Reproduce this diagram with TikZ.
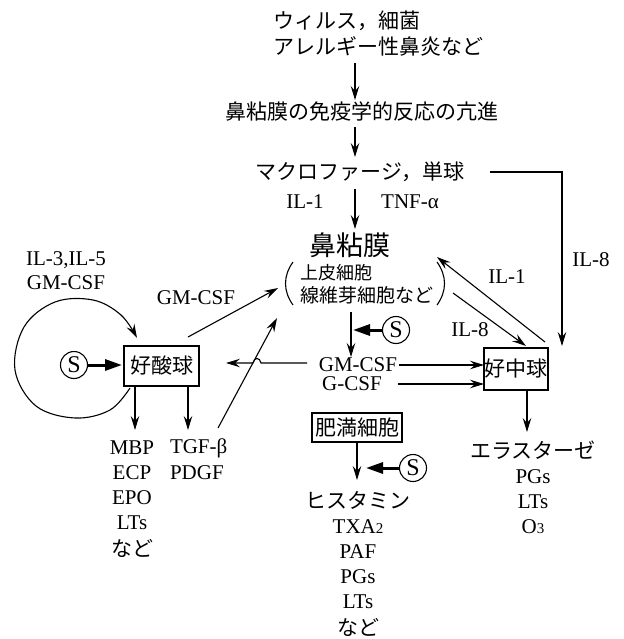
\documentclass[tikz,border=0pt]{standalone}
\usepackage{fontspec}
\setmainfont{Liberation Serif}
\newfontfamily\jp{Noto Sans CJK JP}
\usetikzlibrary{arrows.meta}
\tikzset{
  lat/.style={font=\fontsize{21}{24}\selectfont},
  jpt/.style={font=\jp\fontsize{21}{24}\selectfont},
  arr/.style={line width=1.1pt,-{Stealth[length=14pt,width=8.5pt,inset=5pt]}},
  plain/.style={line width=1.1pt},
  thickarr/.style={line width=3pt,-{Triangle[length=17pt,width=11pt]}},
  sball/.style={circle,draw,line width=1.1pt,minimum size=27pt,inner sep=0pt,font=\fontsize{24}{24}\selectfont},
  cellbox/.style={draw,line width=1.1pt,inner sep=0pt,font=\jp\fontsize{21}{24}\selectfont},
}
\begin{document}
\begin{tikzpicture}[x=1pt,y=-1pt,every node/.style={inner sep=0pt,outer sep=0pt}]
\useasboundingbox (0,0) rectangle (623,639);
% top chain
\node[jpt,anchor=west] (t1) at (273,21) {ウィルス，細菌};
\node[jpt,anchor=west] (t2) at (273,46) {アレルギー性鼻炎など};
\node[jpt] (imm) at (362,112) {鼻粘膜の免疫学的反応の亢進};
\node[jpt] (mac) at (360,172) {マクロファージ，単球};
\node[lat] (il1a) at (305,202) {IL-1};
\node[lat] (tnf) at (410,202) {TNF-α};
\node[font=\jp\fontsize{27}{30}\selectfont] (muc) at (350,245) {鼻粘膜};
\node[font=\jp\fontsize{18}{20}\selectfont,anchor=west] (muc1) at (300,273) {上皮細胞};
\node[font=\jp\fontsize{19}{20}\selectfont,anchor=west] (muc2) at (300,295) {線維芽細胞など};
\draw[plain] (293,262) .. controls (283,276) and (283,291) .. (293,305);
\draw[plain] (437,262) .. controls (447,276) and (447,291) .. (437,305);
\coordinate (a1s) at (355,63); \coordinate (a1e) at (355,100);
\draw[arr] (a1s) -- (a1e);
\coordinate (a2s) at (355,127); \coordinate (a2e) at (355,157);
\draw[arr] (a2s) -- (a2e);
\coordinate (a3s) at (355,189); \coordinate (a3e) at (355,229);
\draw[arr] (a3s) -- (a3e);
% boxes
\node[cellbox,minimum width=75pt,minimum height=40pt] (eos) at (161.5,366) {好酸球};
\node[cellbox,minimum width=64pt,minimum height=42pt] (neu) at (516,369) {好中球};
\node[cellbox,minimum width=90pt,minimum height=29pt] (mast) at (357,427.5) {肥満細胞};
% S balls
\node[sball] (s1) at (74,365) {S};
\node[sball] (s2) at (396,330) {S};
\node[sball] (s3) at (413,468) {S};
% cytokines middle
\node[lat] (gm) at (358,365) {GM-CSF};
\node[lat] (gc) at (352,384) {G-CSF};
% labels
\node[lat,align=center] (il35) at (66,271) {IL-3,IL-5\\GM-CSF};
\node[lat] (gml) at (196,298) {GM-CSF};
\node[lat] (il1b) at (507,277) {IL-1};
\node[lat] (il8a) at (470,330) {IL-8};
\node[lat] (il8b) at (591,260) {IL-8};
% macrophage -> neutrophil
\coordinate (macR) at (490,172); \coordinate (neuIn) at (562,346);
\draw[arr] (macR) -| (neuIn);
% mucosa <-> neutrophil
\coordinate (n1s) at (545,342); \coordinate (n1e) at (437,257);
\draw[arr] (n1s) -- (n1e);
\coordinate (n2s) at (453,293); \coordinate (n2e) at (526,346);
\draw[arr] (n2s) -- (n2e);
% mucosa down to GM-CSF
\coordinate (m1s) at (351,312); \coordinate (m1e) at (351,357);
\draw[arr] (m1s) -- (m1e);
\coordinate (s2t) at (353,330);
\draw[thickarr] (s2.west) -- (s2t);
% GM-CSF, G-CSF -> neutrophil
\draw[arr] (gm.east) ++(2,0) -- (neu.west |- 0,365);
\coordinate (gcR) at (398,384);
\draw[arr] (gcR) -- (neu.west |- 0,384);
% GM-CSF -> eosinophil with jump
\coordinate (gmL) at (307,363); \coordinate (eosIn) at (226,363);
\draw[arr] (gmL) -- (261,363) .. controls (260,357) and (254,357) .. (253,363) -- (eosIn);
% eosinophil -> mucosa
\coordinate (e1s) at (188,337); \coordinate (e1e) at (278,288);
\draw[arr] (e1s) -- (e1e);
\coordinate (tgs) at (218,428); \coordinate (tge) at (277,318);
\draw[arr] (tgs) -- (tge);
% S -> eosinophil
\coordinate (s1t) at (122,365);
\draw[thickarr] (s1.east) -- (s1t);
% loop
\draw[arr] plot[smooth,tension=0.6] coordinates {(130,388) (110,410) (75,418) (36,406) (15,370) (24,327) (55,302) (93,300) (121,315) (137,338)};
% outputs eosinophil
\coordinate (eo1) at (135,386); \coordinate (eo1e) at (135,430);
\coordinate (eo2) at (188,386); \coordinate (eo2e) at (188,430);
\draw[arr] (eo1) -- (eo1e);
\draw[arr] (eo2) -- (eo2e);
\node[lat] (mbp) at (132,448) {MBP};
\node[lat] (ecp) at (132,473) {ECP};
\node[lat] (epo) at (132,498) {EPO};
\node[lat] (lts1) at (132,523) {LTs};
\node[jpt] (nd1) at (132,548) {など};
\node[lat,anchor=west] (tgf) at (170,448) {TGF-β};
\node[lat,anchor=west] (pdgf) at (170,473) {PDGF};
% mast cell
\coordinate (ma1) at (357,442); \coordinate (ma1e) at (357,480);
\draw[arr] (ma1) -- (ma1e);
\coordinate (s3t) at (366,468);
\draw[thickarr] (s3.west) -- (s3t);
\node[jpt] (his) at (358,500) {ヒスタミン};
\node[lat] (txa) at (358,527) {TXA{\fontsize{15}{15}\selectfont 2}};
\node[lat] (paf) at (358,552) {PAF};
\node[lat] (pgs2) at (358,577) {PGs};
\node[lat] (lts2) at (358,602) {LTs};
\node[jpt] (nd2) at (358,627) {など};
% neutrophil outputs
\coordinate (ne1) at (527,390); \coordinate (ne1e) at (527,432);
\draw[arr] (ne1) -- (ne1e);
\node[jpt] (ela) at (533,450) {エラスターゼ};
\node[lat] (pgs3) at (533,477) {PGs};
\node[lat] (lts3) at (533,502) {LTs};
\node[lat] (o3) at (533,527) {O{\fontsize{15}{15}\selectfont 3}};
\end{tikzpicture}
\end{document}
